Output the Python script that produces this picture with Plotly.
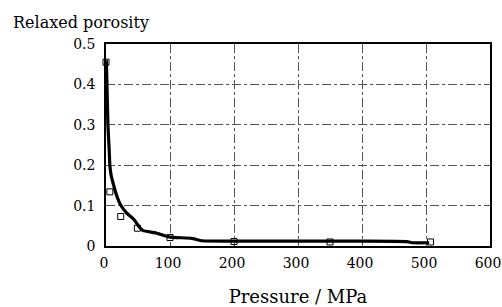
import plotly.graph_objects as go

# Smoothed fitted curve
curve_pressure = [0.5, 1.5, 3, 5, 6, 8, 11, 16, 22, 32, 44, 52, 58, 76, 89, 100, 134, 150, 200, 300, 400, 470, 480, 505]
curve_porosity = [0.46, 0.40, 0.30, 0.237, 0.20, 0.175, 0.156, 0.128, 0.104, 0.082, 0.065, 0.047, 0.038, 0.033,
                  0.027, 0.022, 0.019, 0.013, 0.012, 0.012, 0.012, 0.011, 0.008, 0.008]

# Measured points (open squares)
meas_pressure = [0, 6, 23, 49, 100, 200, 350, 507]
meas_porosity = [0.455, 0.134, 0.073, 0.044, 0.021, 0.011, 0.010, 0.010]

x_ticks = [0, 100, 200, 300, 400, 500, 600]
y_ticks = [0, 0.1, 0.2, 0.3, 0.4, 0.5]
y_tick_labels = ["0", "0.1", "0.2", "0.3", "0.4", "0.5"]

font_family = "DejaVu Serif"

fig = go.Figure()
fig.add_trace(go.Scatter(x=curve_pressure, y=curve_porosity, mode="lines",
                         line=dict(color="black", width=3.2, shape="spline", smoothing=0.4),
                         showlegend=False))
fig.add_trace(go.Scatter(x=meas_pressure, y=meas_porosity, mode="markers",
                         marker=dict(symbol="square-open", size=6, color="black", line=dict(width=1)),
                         cliponaxis=False, showlegend=False))

fig.update_layout(
    width=502, height=307,
    margin=dict(l=106, r=12, t=44, b=61, autoexpand=False),
    paper_bgcolor="white", plot_bgcolor="white",
    font=dict(family=font_family, color="black", size=14),
    annotations=[dict(text="Relaxed porosity", xref="paper", yref="paper", x=-0.247, y=1.05,
                      xanchor="left", yanchor="bottom", showarrow=False,
                      font=dict(size=16, family=font_family, color="black"))],
)
fig.update_xaxes(range=[0, 600], tickvals=x_ticks, showgrid=True, gridcolor="#555555",
                 griddash="dashdot", gridwidth=1, showline=True, linecolor="black", linewidth=1.5,
                 mirror=True, zeroline=False, ticks="", tickfont=dict(size=14, family=font_family),
                 ticklabelstandoff=3, ticklabelshift=-2, automargin=False, ticklabeloverflow="allow",
                 title=dict(text="Pressure / MPa", font=dict(size=18, family=font_family), standoff=22))
fig.update_yaxes(range=[0, 0.5], tickvals=y_ticks, ticktext=y_tick_labels, showgrid=True,
                 gridcolor="#555555", griddash="dashdot", gridwidth=1, showline=True,
                 linecolor="black", linewidth=1.5, mirror=True, zeroline=False, ticks="",
                 automargin=False,
                 ticklabelstandoff=6, tickfont=dict(size=14, family=font_family))

fig.write_html("out.html", config={"displayModeBar": False},
               post_script="document.body.style.margin='0';")
